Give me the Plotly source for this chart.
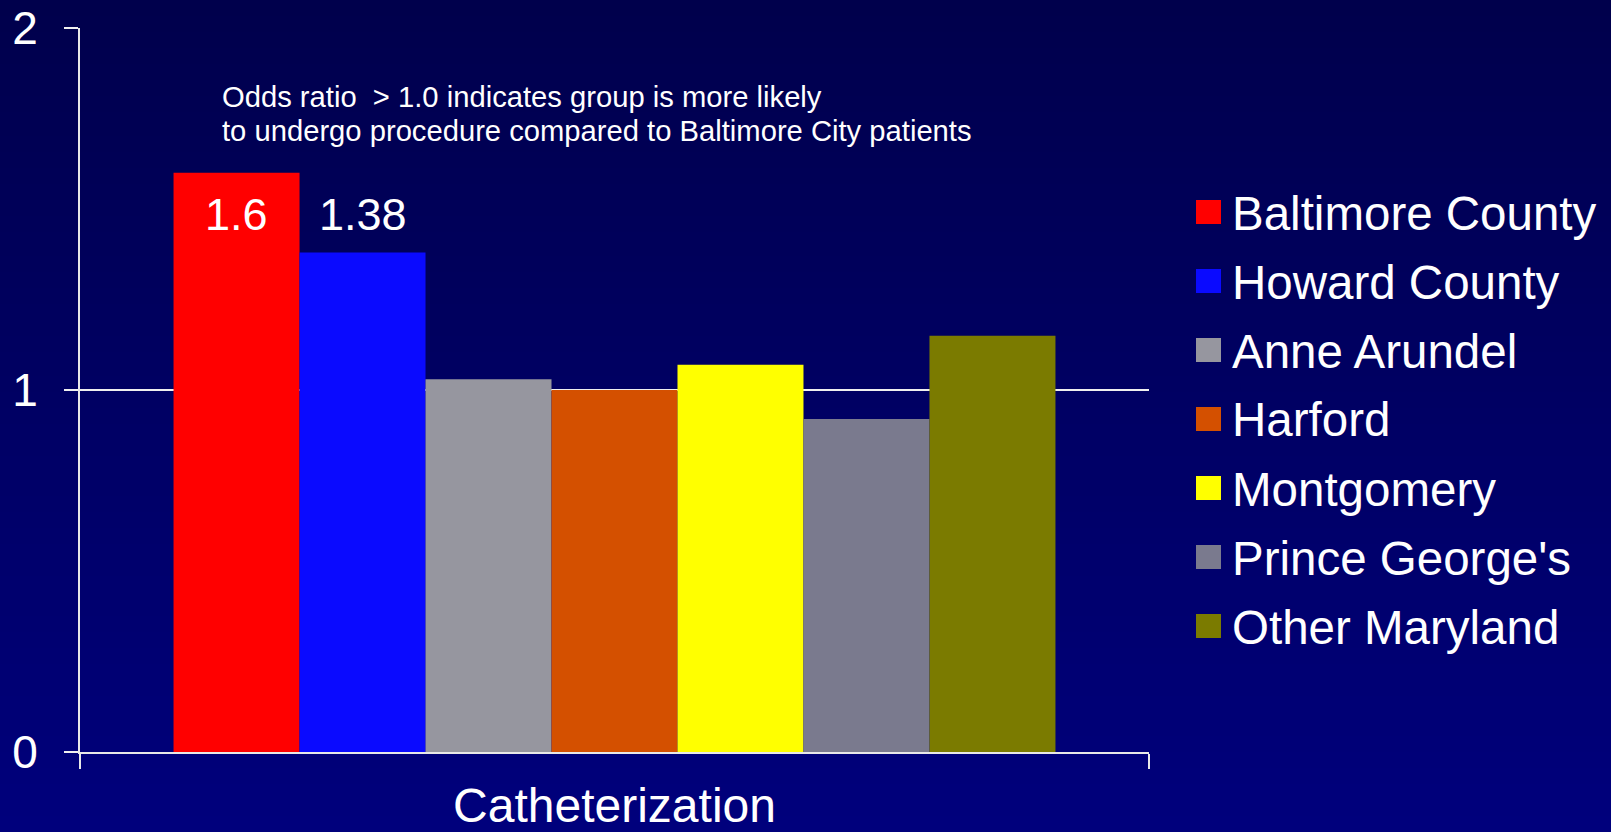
import plotly.graph_objects as go

# ---------------- data ----------------
category = ["Catheterization"]
groups = ["Baltimore County", "Howard County", "Anne Arundel", "Harford",
          "Montgomery", "Prince George's", "Other Maryland"]
odds_ratios = [1.6, 1.38, 1.03, 1.0, 1.07, 0.92, 1.15]
bar_colors = ["#FF0000", "#0A0AFF", "#96969F", "#D45000",
              "#FFFF00", "#7A7A8E", "#7B7B00"]
labelled = ["1.6", "1.38", None, None, None, None, None]
label_level = 1.484
y_ticks = [0, 1, 2]
note_lines = ["Odds ratio  > 1.0 indicates group is more likely",
              "to undergo procedure compared to Baltimore City patients"]

# ---------------- layout constants ----------------
W, H = 1611, 832
ML, MR, MT, MB = 80, 462, 28, 80
PW, PH = W - ML - MR, H - MT - MB
BARGAP = 0.175
FONT = "Arial, 'Liberation Sans', sans-serif"


def px_to_paper_x(px):
    return (px - ML) / PW


def px_to_paper_y(py):
    return (H - MB - py) / PH


fig = go.Figure()
for name, val, col in zip(groups, odds_ratios, bar_colors):
    fig.add_trace(go.Bar(x=category, y=[val], name=name, marker=dict(color=col, line=dict(width=0)),
                         showlegend=False, hoverinfo="name+y"))

shapes = []
# vertical gradient background
top_c, bot_c = (0, 0, 76), (0, 0, 124)
nb = 104
for i in range(nb):
    t = i / (nb - 1)
    c = tuple(round(top_c[k] + (bot_c[k] - top_c[k]) * t) for k in range(3))
    y0 = i * H / nb
    y1 = (i + 1) * H / nb + 1
    shapes.append(dict(type="rect", xref="paper", yref="paper", layer="below",
                       x0=px_to_paper_x(-5), x1=px_to_paper_x(W + 5),
                       y0=px_to_paper_y(y1), y1=px_to_paper_y(y0),
                       fillcolor="rgb(%d,%d,%d)" % c, line=dict(width=0)))

annotations = []
# value labels on bars
bar_w_px = PW * (1 - BARGAP) / len(groups)
for i, lab in enumerate(labelled):
    if lab is None:
        continue
    annotations.append(dict(x=category[0], y=label_level, xref="x", yref="y",
                            text=lab, showarrow=False,
                            xshift=(i - (len(groups) - 1) / 2) * bar_w_px,
                            font=dict(family=FONT, size=45, color="white")))

# explanatory note
for j, line in enumerate(note_lines):
    annotations.append(dict(x=px_to_paper_x(220), y=px_to_paper_y(97 + 34 * j),
                            xref="paper", yref="paper", xanchor="left", yanchor="middle",
                            text=line, showarrow=False, align="left",
                            font=dict(family=FONT, size=29.2, color="white")))

# legend (drawn manually to match large swatches)
leg_top, leg_step = 212, 69
for k, (name, col) in enumerate(zip(groups, bar_colors)):
    yc = leg_top + leg_step * k
    shapes.append(dict(type="rect", xref="paper", yref="paper",
                       x0=px_to_paper_x(1196), x1=px_to_paper_x(1221),
                       y0=px_to_paper_y(yc + 12), y1=px_to_paper_y(yc - 12),
                       fillcolor=col, line=dict(width=0)))
    annotations.append(dict(x=px_to_paper_x(1230), y=px_to_paper_y(yc + 1),
                            xref="paper", yref="paper", xanchor="left", yanchor="middle",
                            text=name, showarrow=False,
                            font=dict(family=FONT, size=47.5, color="white")))

fig.update_layout(
    width=W, height=H,
    margin=dict(l=ML, r=MR, t=MT, b=MB, autoexpand=False),
    paper_bgcolor="#00004C", plot_bgcolor="rgba(0,0,0,0)",
    barmode="group", bargap=BARGAP, bargroupgap=0,
    showlegend=False,
    shapes=shapes, annotations=annotations,
    font=dict(family=FONT, color="white"),
    xaxis=dict(type="category", showgrid=False, zeroline=False,
               showline=True, linecolor="#E8E8E8", linewidth=2,
               ticks="outside", tickson="boundaries", ticklen=15, tickwidth=2,
               tickcolor="#E8E8E8", ticklabelstandoff=10,
               tickfont=dict(family=FONT, size=48, color="white")),
    yaxis=dict(range=[0, 2], tickvals=y_ticks, ticktext=[str(v) for v in y_ticks],
               showgrid=True, gridcolor="#F0F0F0", gridwidth=2, zeroline=False,
               showline=True, linecolor="#E8E8E8", linewidth=2,
               ticks="outside", ticklen=14, tickwidth=2, tickcolor="#F0F0F0",
               ticklabelstandoff=17,
               tickfont=dict(family=FONT, size=46, color="white")),
)

fig.write_html("out.html")
